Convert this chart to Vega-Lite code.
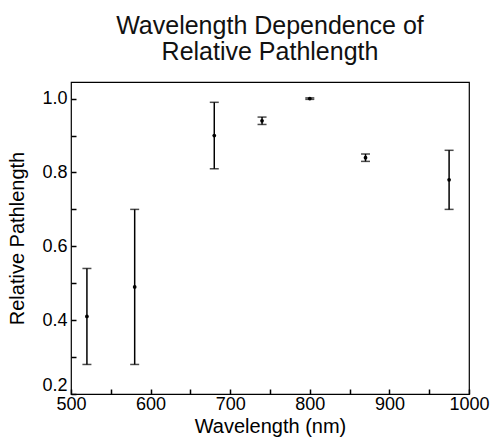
{
  "$schema": "https://vega.github.io/schema/vega-lite/v6.json",
  "width": 398,
  "height": 312,
  "autosize": {"type": "none"},
  "padding": {"left": 71, "top": 82, "right": 24, "bottom": 47},
  "background": "white",
  "config": {
    "view": {"stroke": "#000000", "strokeWidth": 1.2},
    "font": "Liberation Sans",
    "axis": {
      "grid": false,
      "labelColor": "#000000",
      "labelFontSize": 18,
      "titleColor": "#000000",
      "titleFontSize": 20,
      "titleFontWeight": "normal"
    }
  },
  "title": {
    "text": ["Wavelength Dependence of", "Relative Pathlength"],
    "fontSize": 25,
    "lineHeight": 26,
    "fontWeight": "normal",
    "font": "Liberation Sans",
    "color": "#111111",
    "anchor": "middle",
    "offset": 17
  },
  "data": {
    "values": [
      {"wl": 520, "y": 0.41, "lo": 0.28, "hi": 0.54},
      {"wl": 580, "y": 0.49, "lo": 0.28, "hi": 0.70},
      {"wl": 680, "y": 0.90, "lo": 0.81, "hi": 0.99},
      {"wl": 740, "y": 0.94, "lo": 0.93, "hi": 0.95},
      {"wl": 800, "y": 1.0, "lo": 0.998, "hi": 1.002},
      {"wl": 870, "y": 0.84, "lo": 0.83, "hi": 0.85},
      {"wl": 975, "y": 0.78, "lo": 0.70, "hi": 0.86}
    ]
  },
  "layer": [
    {
      "mark": {"type": "rule", "color": "#000000", "strokeWidth": 1.5},
      "encoding": {
        "x": {
          "field": "wl", "type": "quantitative",
          "title": "Wavelength (nm)",
          "scale": {"domain": [500, 1000], "nice": false, "zero": false},
          "axis": {
            "tickCount": 10,
            "format": "d",
            "tickColor": "#000000",
            "tickWidth": 1.5,
            "tickSize": 5,
            "offset": -5,
            "domain": false,
            "labelPadding": 1,
            "titlePadding": 3,
            "labelFlush": false,
            "labelOverlap": "parity",
            "labelSeparation": 15
          }
        },
        "y": {
          "field": "lo", "type": "quantitative",
          "title": "Relative Pathlength",
          "scale": {"domain": [0.2, 1.045], "nice": false, "zero": false},
          "axis": {
            "tickCount": 9,
            "format": ".1f",
            "tickColor": "#000000",
            "tickWidth": 1.5,
            "tickSize": 5,
            "offset": -5,
            "domain": false,
            "labelPadding": 4,
            "titlePadding": 14,
            "labelFlush": true,
            "labelFlushOffset": 0,
            "labelOverlap": "parity",
            "labelSeparation": 25
          }
        },
        "y2": {"field": "hi"}
      }
    },
    {
      "mark": {"type": "tick", "color": "#000000", "orient": "horizontal", "size": 9, "thickness": 1.5},
      "encoding": {
        "x": {"field": "wl", "type": "quantitative"},
        "y": {"field": "lo", "type": "quantitative"}
      }
    },
    {
      "mark": {"type": "tick", "color": "#000000", "orient": "horizontal", "size": 9, "thickness": 1.5},
      "encoding": {
        "x": {"field": "wl", "type": "quantitative"},
        "y": {"field": "hi", "type": "quantitative"}
      }
    },
    {
      "mark": {"type": "point", "filled": true, "color": "#000000", "size": 14, "opacity": 1},
      "encoding": {
        "x": {"field": "wl", "type": "quantitative"},
        "y": {"field": "y", "type": "quantitative"}
      }
    }
  ]
}
